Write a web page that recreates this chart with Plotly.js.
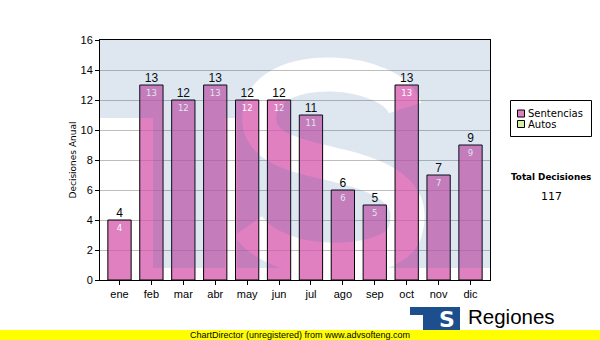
<!DOCTYPE html>
<html>
<head>
<meta charset="utf-8">
<script src="https://cdn.plot.ly/plotly-3.0.1.min.js"></script>
<style>html,body{margin:0;padding:0;background:#fff;}#chart{width:600px;height:340px;}</style>
</head>
<body>
<div id="chart"></div>
<script>
var months = ['ene','feb','mar','abr','may','jun','jul','ago','sep','oct','nov','dic'];
var sentencias = [4,13,12,13,12,12,11,6,5,13,7,9];
var autos = [null,null,null,null,null,null,null,null,null,null,null,null];
var yTicks = [0,2,4,6,8,10,12,14,16];
var seriesNames = ['Sentencias','Autos'];
var seriesColors = ['rgba(214,86,171,0.75)','#d6ee9e'];
var legendSwatch = ['#e07fc0','#d6ee9e'];
var totalLabel = 'Total Decisiones';
var totalValue = '117';

// plot area in pixels: x 100..490, y 40..280
var L = 100, T = 40, W = 390, H = 240;
function px(x){ return (x - L) / W; }
function py(y){ return (T + H - y) / H; }

var svg = '<svg xmlns="http://www.w3.org/2000/svg" width="390" height="240" viewBox="0 0 390 240">' +
  '<defs><mask id="m"><rect x="0" y="0" width="390" height="240" fill="white"/>' +
  '<path d="M 305 68 C 292 28, 172 18, 160 70 C 152 110, 200 116, 240 126 C 290 138, 316 156, 305 192 C 294 228, 180 232, 148 186" fill="none" stroke="black" stroke-width="34"/>' +
  '<rect x="125" y="78" width="12" height="150" fill="black"/></mask></defs>' +
  '<g mask="url(#m)" fill="rgb(42,102,162)">' +
  '<rect x="0" y="0" width="390" height="78"/>' +
  '<rect x="53" y="78" width="84" height="150"/>' +
  '<rect x="137" y="78" width="253" height="150"/>' +
  '</g></svg>';
var svgUri = 'data:image/svg+xml;charset=utf-8,' + encodeURIComponent(svg);

var traces = [
  {
    type: 'bar', name: seriesNames[0], x: months, y: sentencias,
    marker: {color: seriesColors[0], line: {color: '#000', width: 1}},
    text: sentencias.map(String), textposition: 'inside', insidetextanchor: 'end',
    textangle: 0, constraintext: 'none',
    textfont: {family: 'DejaVu Sans', size: 8.5, color: '#ffffff'},
    hoverinfo: 'none', showlegend: false
  },
  {
    type: 'bar', name: seriesNames[1], x: months, y: autos,
    marker: {color: seriesColors[1], line: {color: '#000', width: 1}},
    hoverinfo: 'none', showlegend: false
  },
  {
    type: 'scatter', mode: 'text', x: months, y: sentencias,
    text: sentencias.map(String), textposition: 'top center',
    textfont: {family: 'Liberation Sans, Arial', size: 12, color: '#000'},
    showlegend: false, cliponaxis: false, hoverinfo: 'none'
  }
];

var shapes = [
  // legend box
  {type: 'rect', xref: 'paper', yref: 'paper', x0: px(510.5), x1: px(591.5), y0: py(136.5), y1: py(100.5),
   fillcolor: '#ffffff', line: {color: '#000', width: 1}, layer: 'above'},
  // footer
  {type: 'rect', xref: 'paper', yref: 'paper', x0: px(0), x1: px(600), y0: py(340), y1: py(330),
   fillcolor: '#ffff00', line: {width: 0}, layer: 'above'},
  // logo
  {type: 'rect', xref: 'paper', yref: 'paper', x0: px(410), x1: px(460), y0: py(330), y1: py(307),
   fillcolor: '#1d4f8f', line: {width: 0}, layer: 'below'},
  {type: 'rect', xref: 'paper', yref: 'paper', x0: px(410), x1: px(423), y0: py(330), y1: py(315),
   fillcolor: '#ffffff', line: {width: 0}, layer: 'below'}
];
var annotations = [];
seriesNames.forEach(function(n, i){
  var cy = 113.5 + i * 10.5;
  shapes.push({type: 'rect', xref: 'paper', yref: 'paper', x0: px(517.5), x1: px(524.5), y0: py(cy + 3.5), y1: py(cy - 3.5),
    fillcolor: legendSwatch[i], line: {color: '#000', width: 1}, layer: 'above'});
  annotations.push({xref: 'paper', yref: 'paper', x: px(526), y: py(cy), text: n, showarrow: false,
    font: {family: 'DejaVu Sans', size: 10, color: '#000'}, xanchor: 'left', yanchor: 'middle'});
});
annotations.push(
  {xref: 'paper', yref: 'paper', x: px(551), y: py(177), text: '<b>' + totalLabel + '</b>', showarrow: false,
   font: {family: 'DejaVu Sans', size: 8.8, color: '#000'}, xanchor: 'center', yanchor: 'middle'},
  {xref: 'paper', yref: 'paper', x: px(551), y: py(196), text: totalValue, showarrow: false,
   font: {family: 'DejaVu Sans', size: 11, color: '#000'}, xanchor: 'center', yanchor: 'middle'},
  {xref: 'paper', yref: 'paper', x: px(300), y: py(335), text: 'ChartDirector (unregistered) from www.advsofteng.com', showarrow: false,
   font: {family: 'Liberation Sans, Arial', size: 9, color: '#000'}, xanchor: 'center', yanchor: 'middle'},
  {xref: 'paper', yref: 'paper', x: px(466), y: py(316), text: 'Regiones', showarrow: false,
   font: {family: 'Liberation Sans, Arial', size: 20.5, color: '#000'}, xanchor: 'left', yanchor: 'middle'},
  {xref: 'paper', yref: 'paper', x: px(447), y: py(319), text: '<b>S</b>', showarrow: false,
   font: {family: 'DejaVu Sans', size: 22, color: '#ffffff'}, xanchor: 'center', yanchor: 'middle'}
);

var layout = {
  width: 600, height: 340,
  margin: {l: L, r: 600 - L - W, t: T, b: 340 - T - H, pad: 0, autoexpand: false},
  paper_bgcolor: '#ffffff', plot_bgcolor: '#ffffff',
  barmode: 'overlay', bargap: 0.27,
  font: {family: 'Liberation Sans, Arial', size: 11, color: '#000'},
  xaxis: {
    type: 'category', showline: true, linecolor: '#000', linewidth: 1, mirror: true,
    ticks: 'outside', ticklen: 4, tickcolor: '#000', showgrid: false,
    tickfont: {family: 'Liberation Sans, Arial', size: 11, color: '#000'}, fixedrange: true
  },
  yaxis: {
    range: [0, 16], tickvals: yTicks, ticktext: yTicks.map(String),
    showline: true, linecolor: '#000', linewidth: 1, mirror: true,
    ticks: 'outside', ticklen: 4, tickcolor: '#000',
    showgrid: true, gridcolor: '#bdbdbd', gridwidth: 1, zeroline: false,
    tickfont: {family: 'Liberation Sans, Arial', size: 11, color: '#000'},
    title: {text: 'Decisiones Anual', font: {family: 'DejaVu Sans', size: 9, color: '#000'}, standoff: 2},
    fixedrange: true
  },
  showlegend: false,
  images: [{
    source: svgUri, xref: 'paper', yref: 'paper', x: 0, y: 1, sizex: 1, sizey: 1,
    sizing: 'stretch', xanchor: 'left', yanchor: 'top', layer: 'above', opacity: 0.15
  }],
  shapes: shapes,
  annotations: annotations
};

Plotly.newPlot('chart', traces, layout, {staticPlot: true, displayModeBar: false});
</script>
</body>
</html>
